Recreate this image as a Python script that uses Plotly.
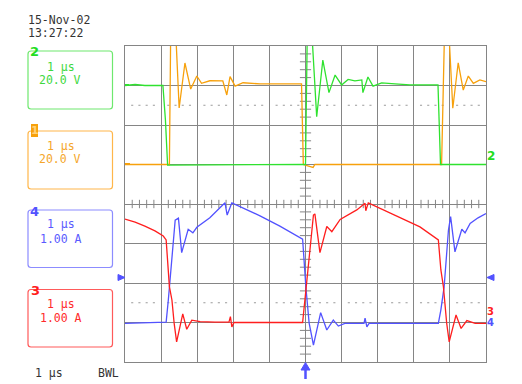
import plotly.graph_objects as go

# ---------------- data (time in microseconds) ----------------
# Channel 2 (green), volts
t_ch2 = [0.00, 0.28, 0.55, 1.05, 1.12, 1.18, 4.97, 5.00, 5.055, 5.15, 5.31, 5.48, 5.65,
         5.82, 6.00, 6.18, 6.37, 6.56, 6.59, 6.73, 6.87, 7.11, 7.48, 7.89, 8.67, 8.70,
         8.74, 10.0]
v_ch2 = [40.0, 40.5, 40.0, 40.0, 22.5, -0.3, 0.0, 0.0, 75.0, 75.0, 24.2, 52.9, 36.4,
         45.3, 40.3, 43.1, 42.3, 42.8, 36.4, 44.3, 39.7, 41.3, 40.8, 40.3, 40.3, 22.5,
         0.0, 0.0]

# Channel 1 (orange), volts
t_ch1 = [0.00, 1.23, 1.27, 1.385, 1.50, 1.66, 1.82, 1.99, 2.12, 2.35, 2.71, 2.82, 2.91,
         3.05, 3.27, 3.74, 4.29, 4.89, 4.94, 5.21, 5.26, 8.77, 8.86, 8.95, 9.08, 9.23,
         9.37, 9.51, 9.65, 9.83, 10.0]
v_ch1 = [0.0, 0.0, 75.0, 75.0, 28.6, 51.4, 38.2, 44.8, 41.1, 42.4, 42.3, 35.2, 44.5,
         39.7, 41.4, 40.8, 40.8, 40.8, 0.0, -1.5, 0.0, 0.0, 75.0, 75.0, 28.5, 51.5,
         37.7, 44.8, 41.1, 42.8, 41.9]

# Channel 3 (red), amperes
t_ch3 = [0.00, 0.28, 0.55, 0.83, 1.06, 1.14, 1.23, 1.30, 1.36, 1.43, 1.60, 1.71, 1.85,
         2.08, 2.49, 2.88, 2.92, 2.96, 3.02, 3.74, 4.29, 4.92, 5.03, 5.22, 5.26, 5.40,
         5.59, 5.73, 5.96, 6.42, 6.65, 6.67, 6.74, 6.88, 7.62, 8.17, 8.68, 8.75, 8.82,
         8.91, 8.98, 9.17, 9.31, 9.47, 9.70, 10.0]
i_ch3 = [2.62, 2.54, 2.44, 2.32, 2.19, 2.09, 0.91, 0.57, -0.01, -0.49, 0.22, -0.17, 0.06,
         0.02, 0.01, 0.01, 0.15, -0.11, 0.0, 0.0, 0.0, 0.0, 0.99, 2.72, 2.75, 1.77,
         2.43, 2.30, 2.61, 2.85, 3.02, 2.83, 3.03, 2.97, 2.67, 2.42, 2.09, 1.33, 0.91,
         -0.01, -0.49, 0.19, -0.15, 0.05, -0.02, -0.02]

# Channel 4 (blue), amperes
t_ch4 = [0.00, 0.55, 1.05, 1.14, 1.20, 1.25, 1.30, 1.39, 1.48, 1.57, 1.75, 1.88, 1.99,
         2.35, 2.77, 2.83, 2.96, 3.74, 4.29, 4.92, 4.96, 5.01, 5.10, 5.22, 5.42, 5.59,
         5.77, 5.91, 6.09, 6.62, 6.65, 6.70, 6.76, 8.68, 8.75, 8.84, 8.96, 9.00, 9.02,
         9.14, 9.33, 9.42, 9.56, 9.78, 10.0]
i_ch4 = [-0.02, -0.01, -0.01, 0.01, 0.57, 1.16, 1.53, 2.59, 2.64, 1.77, 2.36, 2.27, 2.41,
         2.65, 3.03, 2.72, 3.03, 2.70, 2.44, 2.11, 1.58, 0.90, -0.01, -0.57, 0.25, -0.19,
         0.06, -0.09, -0.02, -0.02, 0.11, -0.11, -0.02, -0.02, 0.32, 0.90, 2.34, 2.64,
         2.68, 1.79, 2.36, 2.27, 2.51, 2.65, 2.76]

# channel settings (scale per division, ground level in divisions from bottom)
scale_ch1, gnd_ch1 = 20.0, 5.0
scale_ch2, gnd_ch2 = 20.0, 5.0
scale_ch3, gnd_ch3 = 1.0, 1.0
scale_ch4, gnd_ch4 = 1.0, 1.0

date_text = "15-Nov-02"
time_text = "13:27:22"
timebase = "1 µs"
labels_v = "20.0 V"
labels_a = "1.00 A"

# ---------------- styles ----------------
GREEN = "#2fe22f"
ORANGE = "#f7a10c"
BLUE = "#5252ff"
RED = "#ff1e1e"
GRID = "#858585"
MONO = "DejaVu Sans Mono"

W, H = 522, 384
L, R, T, B = 125, 486, 46, 362


def xp(px):
    return (px - L) / (R - L)


def yp(py):
    return (B - py) / (B - T)


def to_div(vals, scale, gnd):
    return [gnd + v / scale for v in vals]


fig = go.Figure()

# minor ticks / dotted helper lines
minor_x = [i * 0.2 for i in range(51) if i % 5 != 0]
minor_y = [i * 0.2 for i in range(41) if i % 5 != 0]
fig.add_trace(go.Scatter(x=minor_x, y=[4] * len(minor_x), mode="markers", hoverinfo="skip",
                         marker=dict(symbol="line-ns", size=6, line=dict(width=1, color=GRID))))
fig.add_trace(go.Scatter(x=[5] * len(minor_y), y=minor_y, mode="markers", hoverinfo="skip",
                         marker=dict(symbol="line-ew", size=8, line=dict(width=1, color=GRID))))
for yy in (6.5, 1.5):
    fig.add_trace(go.Scatter(x=minor_x, y=[yy] * len(minor_x), mode="markers", hoverinfo="skip",
                             marker=dict(symbol="line-ew", size=1.5, line=dict(width=1, color="#9a9a9a"))))

# traces
line_kw = dict(width=1.3)
fig.add_trace(go.Scatter(x=t_ch1, y=to_div(v_ch1, scale_ch1, gnd_ch1), mode="lines",
                         line=dict(color=ORANGE, **line_kw)))
fig.add_trace(go.Scatter(x=t_ch2, y=to_div(v_ch2, scale_ch2, gnd_ch2), mode="lines",
                         line=dict(color=GREEN, **line_kw)))
fig.add_trace(go.Scatter(x=t_ch4, y=to_div(i_ch4, scale_ch4, gnd_ch4), mode="lines",
                         line=dict(color=BLUE, **line_kw)))
fig.add_trace(go.Scatter(x=t_ch3, y=to_div(i_ch3, scale_ch3, gnd_ch3), mode="lines",
                         line=dict(color=RED, **line_kw)))

shapes = []


def rbox(x0, y0, x1, y1, color, r=3):
    pts = (f"M {xp(x0 + r)},{yp(y0)} L {xp(x1 - r)},{yp(y0)} Q {xp(x1)},{yp(y0)} {xp(x1)},{yp(y0 + r)} "
           f"L {xp(x1)},{yp(y1 - r)} Q {xp(x1)},{yp(y1)} {xp(x1 - r)},{yp(y1)} "
           f"L {xp(x0 + r)},{yp(y1)} Q {xp(x0)},{yp(y1)} {xp(x0)},{yp(y1 - r)} "
           f"L {xp(x0)},{yp(y0 + r)} Q {xp(x0)},{yp(y0)} {xp(x0 + r)},{yp(y0)} Z")
    shapes.append(dict(type="path", xref="paper", yref="paper", path=pts,
                       line=dict(color=color, width=1.2)))


rbox(28, 51, 112.5, 109, "#6ee86e")
rbox(28, 131, 112.5, 189, "#ffb64a")
rbox(28, 210, 112.5, 267.5, "#8c8cff")
rbox(28, 289.5, 112.5, 347, "#ff5a5a")

# orange "1" label background
shapes.append(dict(type="rect", xref="paper", yref="paper", x0=xp(31), x1=xp(38), y0=yp(137), y1=yp(124),
                   fillcolor=ORANGE, line=dict(width=0)))


def tri(points, color):
    p = "M " + " L ".join(f"{xp(a)},{yp(b)}" for a, b in points) + " Z"
    shapes.append(dict(type="path", xref="paper", yref="paper", path=p, fillcolor=color,
                       line=dict(color=color, width=1)))


tri([(118, 274.5), (125, 277.5), (118, 280.5)], BLUE)
tri([(494, 274.5), (487, 277.5), (494, 280.5)], BLUE)
tri([(301, 370), (305.5, 362.5), (310, 370)], BLUE)
shapes.append(dict(type="line", xref="paper", yref="paper", x0=xp(305.5), x1=xp(305.5),
                   y0=yp(369), y1=yp(379), line=dict(color=BLUE, width=2.5)))
# left-edge level markers
shapes.append(dict(type="line", xref="paper", yref="paper", x0=xp(125), x1=xp(129),
                   y0=yp(85), y1=yp(85), line=dict(color=GREEN, width=2)))
shapes.append(dict(type="line", xref="paper", yref="paper", x0=xp(125), x1=xp(130),
                   y0=yp(164), y1=yp(164), line=dict(color=ORANGE, width=2)))

anns = []


def ann(px, py, text, color, size=12, xanchor="center", bold=False, family=MONO, bg=None):
    if bold:
        text = f"<b>{text}</b>"
    d = dict(x=xp(px), y=yp(py), xref="paper", yref="paper", text=text, showarrow=False,
             xanchor=xanchor, yanchor="middle", font=dict(family=family, size=size, color=color))
    if bg:
        d["bgcolor"] = bg
    anns.append(d)


ann(26, 20, date_text, "#333333", 11.5, xanchor="left")
ann(26, 33, time_text, "#333333", 11.5, xanchor="left")

ann(60.5, 66.7, timebase, "#3ed83e", 11.5)
ann(60, 80, labels_v, "#3ed83e", 11.5)
ann(60.5, 145.7, timebase, "#f5a62a", 11.5)
ann(60, 159.3, labels_v, "#f5a62a", 11.5)
ann(60.5, 224.3, timebase, "#5a5aff", 11.5)
ann(61, 239, labels_a, "#5a5aff", 11.5)
ann(60.5, 304, timebase, "#ff2a2a", 11.5)
ann(61, 318.3, labels_a, "#ff2a2a", 11.5)
ann(33, 373.3, timebase, "#333333", 11.5, xanchor="left")
ann(96, 373.3, "BWL", "#333333", 11.5, xanchor="left")

ann(34.5, 51.5, "2", "#22dd22", 13, bold=True, family="DejaVu Sans")
ann(34.5, 130.5, "1", "#ffd27a", 11, bold=True, family="DejaVu Sans")
ann(34.5, 211, "4", BLUE, 13, bold=True, family="DejaVu Sans")
ann(35, 290.5, "3", RED, 13, bold=True, family="DejaVu Sans")
ann(490.5, 156, "2", "#22dd22", 12, bold=True, family="DejaVu Sans")
ann(490.5, 311, "3", RED, 10, bold=True, family="DejaVu Sans")
ann(490.5, 322, "4", BLUE, 10, bold=True, family="DejaVu Sans")

fig.update_layout(
    width=W, height=H,
    margin=dict(l=L, r=W - R, t=T, b=H - B),
    paper_bgcolor="white", plot_bgcolor="white",
    showlegend=False,
    shapes=shapes, annotations=anns,
    xaxis=dict(range=[0, 10], dtick=1, tick0=0, showgrid=True, gridcolor=GRID, gridwidth=1,
               zeroline=False, showticklabels=False, ticks="", showline=True, mirror=True,
               linecolor=GRID, linewidth=1, fixedrange=True),
    yaxis=dict(range=[0, 8], dtick=1, tick0=0, showgrid=True, gridcolor=GRID, gridwidth=1,
               zeroline=False, showticklabels=False, ticks="", showline=True, mirror=True,
               linecolor=GRID, linewidth=1, fixedrange=True),
)

fig.write_html("out.html")
